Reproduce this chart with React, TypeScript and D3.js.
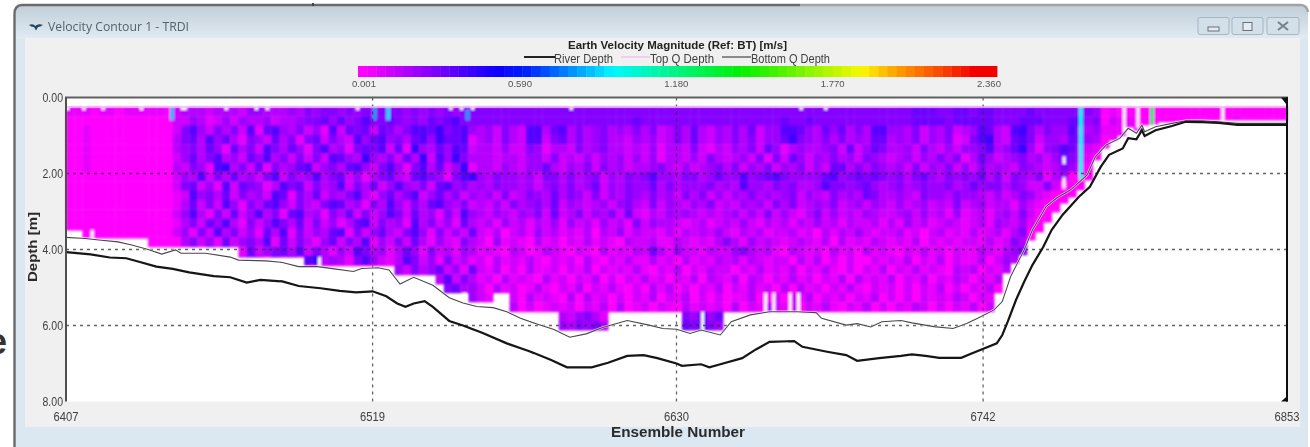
import React from "react";
import * as d3 from "d3";

const chartTitle = "Earth Velocity Magnitude (Ref: BT) [m/s]";
const windowTitle = "Velocity Contour 1 - TRDI";
const xTicks = [6407, 6519, 6630, 6742, 6853];
const yTicks = [0, 2, 4, 6, 8];
const colorbarTicks = [0.001, 0.59, 1.18, 1.77, 2.36];

const riverEns = [6407,6416,6423,6429,6434,6440,6446,6452,6461,6467,6473,6478,6486,6492,6500,6507,6513,6519,6524,6528,6531,6534,6538,6541,6547,6552,6559,6568,6576,6584,6590,6599,6605,6612,6618,6623,6630,6632,6639,6642,6647,6654,6659,6664,6673,6676,6685,6692,6696,6704,6712,6716,6721,6726,6734,6738,6747,6749,6751,6754,6757,6760,6764,6767,6771,6777,6781,6785,6788,6793,6795,6798,6800,6801,6805,6811,6816,6822,6828,6835,6853];
const riverDepth = [4.07,4.13,4.21,4.23,4.33,4.45,4.51,4.6,4.7,4.73,4.87,4.8,4.84,4.96,5.02,5.09,5.13,5.1,5.23,5.42,5.51,5.42,5.36,5.51,5.88,6,6.19,6.47,6.67,6.9,7.1,7.1,6.98,6.8,6.78,6.86,7,7.06,7.02,7.1,7,6.86,6.63,6.43,6.41,6.56,6.69,6.78,6.93,6.86,6.8,6.76,6.8,6.85,6.85,6.73,6.47,6.25,5.9,5.33,4.85,4.41,3.93,3.49,3.09,2.61,2.35,1.82,1.51,1.34,1.07,1.1,0.86,1.01,0.86,0.75,0.64,0.65,0.67,0.72,0.72];
const bottomQEns = [6407,6414,6419,6426,6431,6437,6442,6447,6449,6458,6467,6470,6480,6486,6492,6499,6505,6512,6515,6521,6525,6529,6534,6541,6547,6552,6557,6563,6568,6573,6579,6585,6591,6597,6603,6612,6620,6625,6630,6635,6639,6646,6650,6657,6664,6674,6681,6683,6692,6696,6701,6705,6712,6716,6724,6731,6736,6740,6746,6749,6752,6757,6760,6765,6769,6774,6780,6783,6787,6792,6795,6798,6800,6801,6805,6811,6816,6822,6828,6835,6853];
const bottomQDepth = [3.68,3.71,3.75,3.8,3.88,4,4.12,4.01,4.1,4.1,4.2,4.28,4.3,4.34,4.45,4.45,4.51,4.58,4.5,4.48,4.54,4.91,4.73,4.94,5.27,5.41,5.5,5.53,5.64,5.81,5.96,6.1,6.31,6.22,6.05,5.87,5.99,6.08,6.1,6.21,6.12,6.25,5.9,5.72,5.64,5.64,5.66,5.81,5.99,5.95,6.04,5.9,5.87,5.93,6.03,6.08,5.95,5.81,5.59,5.37,4.72,4.01,3.49,2.87,2.64,2.43,2.04,1.56,1.25,1.07,0.81,0.94,0.73,0.9,0.77,0.68,0.61,0.61,0.64,0.68,0.68];

// Deepest valid bin, per group of three ensembles (m)
const cellBottom = [3.49,3.49,3.7,3.7,3.7,3.7,3.7,3.7,3.7,3.7,3.93,3.93,3.93,3.93,3.93,3.93,3.93,3.93,3.93,3.93,3.93,4.2,4.2,4.2,4.2,4.2,4.2,4.2,4.2,4.43,4.43,4.43,4.43,4.43,4.43,4.43,4.43,4.43,4.43,4.43,4.67,4.67,4.67,4.67,4.67,4.91,5.14,5.14,5.14,5.38,5.38,5.38,5.14,5.14,5.64,5.64,5.64,5.64,5.64,5.64,6.12,6.12,6.12,6.12,6.12,6.12,5.64,5.64,5.64,5.64,5.64,5.64,5.64,5.64,5.64,6.12,6.12,6.12,6.12,6.12,5.64,5.64,5.64,5.64,5.64,5.64,5.64,5.64,5.64,5.64,5.64,5.64,5.64,5.64,5.64,5.64,5.64,5.64,5.64,5.64,5.64,5.64,5.64,5.64,5.64,5.64,5.64,5.64,5.64,5.64,5.64,5.64,5.64,5.14,4.62,4.36,4.14,3.75,3.54,3.28,3.01,2.78,2.62,2.43,2.17,1.64,1.33,1.12,0.99,0.78,0.86,0.72,0.7,0.64,0.64,0.62,0.6,0.59,0.59,0.59,0.59,0.59,0.59,0.59,0.59,0.59,0.59,0.59,0.59];

// Velocity level per cell (0 = magenta, 9 = blue), one string per 0.245 m depth bin, three ensembles per character
const heatRows = [
"1110110111 1102333233 3244333435 4554545455 5454545455 5555555555 5555555555 5555555555 5555555555 5555555555 5556665566 5665555655 5555540100 0000000000 000000000",
"0000000000 0002243124 2433423345 5646457556 5454656755 5555555555 5555555556 5555555555 5555555655 6555555555 5556666566 6665556665 5567450211 0000000000 001000000",
"0010000000 0002574253 5271674352 4172656265 3577685674 3425327736 7353453435 3523536324 3536244776 4364635377 4435243523 4763278535 4474341110 1111000000 000000000",
"0010000000 0003563746 3154263515 6253274674 5367486671 3425327725 6353453324 3423536324 3535244685 4353534366 3435243512 5783267524 4365430110 1111000000 000000000",
"0010000000 0003453641 6352753641 5734156572 6184364762 3324225413 3253453323 2413325213 2435264134 3345262465 3342532424 4573468414 5763210000 0000000000 000000000",
"0010000000 0002463573 4264735252 5276438435 2638274853 3323324425 2324243424 2413324253 2342515264 2435342543 2342435351 3642345342 4653100000 0000000000 000000000",
"0010000000 0003254178 3526153467 2453674257 4157362481 3324324463 2435253423 3453242345 3524352435 2426635354 3425243524 2534325432 3542000000 0000000000 000000000",
"0000000000 0002437253 6342572534 7356241356 3267541578 4354434255 3534524354 5744355346 4474567544 4467456565 4535643545 4635254351 3400000000 0000000000 000000000",
"0000000000 0002562417 2654137562 5347253624 7435267453 4354434245 3534624354 4635344453 4374435453 3475545643 4534544534 6455354225 2000000000 0000000000 000000000",
"0000000000 0001274536 2534276153 6243573146 3572463524 3425235436 3542524354 3534253524 2435343452 4325343653 3432544354 4324235421 0000000000 0000000000 000000000",
"0000000000 0001362527 4153674253 2576341537 4253674352 3242534536 2432342453 2524324352 3243425352 3435234243 2423423252 3423314210 0000000000 0000000000 000000000",
"0000000000 0002473152 6247351673 4153625247 5263415274 3243243526 2352435262 1324343232 3424252421 3524232432 2342423141 2313425200 0000000000 0000000000 000000000",
"0000000000 0001352647 3152475362 5241367253 4173524163 2314231324 1423142315 2433212312 3242132313 2423132231 3142312321 2314324100 0000000000 0000000000 000000000",
"0000000000 0002415273 5241637152 4367152463 2574152426 2130231423 1213032413 2213132324 2132312231 2031324212 2312023121 3123135000 0000000000 0000000000 000000000",
"0000000000 0000352416 2453716253 1462537142 5263142153 2041210312 0213121032 2311321213 5314232123 2130312132 1213021212 2131253000 0000000000 0000000000 000000000",
"0000000000 0001241635 3162456372 5314275341 3641523143 1210320132 1021031213 2631422132 2453231032 1203120312 1021312021 1321345000 0000000000 0000000000 000000000",
"0000000000 0000000000 2354163527 8343157421 3752415231 2031213102 1203102131 1312031213 2313212203 1302020021 2130213021 1302435000 0000000000 0000000000 000000000",
"0000000000 0000000000 0000000000 0000000000 4253462416 2130203112 0213021213 1021302132 2021312130 2131020213 0213121032 3021300000 0000000000 0000000000 000000000",
"0000000000 0000000000 0000000000 0000000000 3142537253 1203121031 2021302021 3120213032 1303202131 2021303121 3021302132 0213000000 0000000000 0000000000 000000000",
"0000000000 0000000000 0000000000 0000000000 2351425634 2031201310 2130213102 0313020213 0213120303 1202131021 2020213020 2130000000 0000000000 0000000000 000000000",
"0000000000 0000000000 0000000000 0000000000 0000006524 2130203121 0303120202 1302130202 0113002021 3021202130 2020212132 0210000000 0000000000 0000000000 000000000",
"0000000000 0000000000 0000000000 0000000000 0000003322 2021302012 1202130301 2021031212 0302132120 2131021302 0213202021 3020000000 0000000000 0000000000 000000000",
"0000000000 0000000000 0000000000 0000000000 0000000000 0000000000 3245312200 0000054746 6530000000 0000000000 0000000000 0000000000 0000000000 0000000000 000000000",
"0000000000 0000000000 0000000000 0000000000 0000000000 0000000000 4354532300 0000065754 4540000000 0000000000 0000000000 0000000000 0000000000 0000000000 000000000",
];

// One-ensemble missing or anomalous bins: [ensemble, from depth, to depth]
const whiteGaps = [[6407,0.25,0.33],[6413,0.25,0.33],[6420,0.25,0.33],[6434,0.25,0.33],[6449,0.25,0.33],[6450,0.25,0.33],[6465,0.25,0.33],[6476,0.25,0.33],[6480,0.25,0.33],[6513,0.25,0.33],[6547,0.25,0.33],[6551,0.25,0.33],[6555,0.25,0.33],[6591,0.25,0.33],[6675,0.25,0.33],[6684,0.25,0.33],[6793,0.25,0.93],[6798,0.25,0.8],[6829,0.25,0.59],[6662,5.14,5.64],[6665,5.14,5.64],[6671,5.14,5.64],[6674,5.14,5.64],[6639,5.64,6.12],[6416,3.49,3.7],[6499,4.2,4.43],[6552,5.14,5.38],[6771,1.55,1.75],[6771,2.1,2.4]];
const colorSpikes = [[6445,0.25,0.6,0.85],[6519,0.25,0.6,0.8],[6524,0.25,0.6,0.9],[6553,0.33,0.6,0.8],[6777,0.25,2.17,0.95],[6803,0.25,0.72,1.25]];

const legendItems = [
  { label: "River Depth", x1: 524, x2: 555, tx: 554, tw: 59, color: "#222", w: 2 },
  { label: "Top Q Depth", x1: 621, x2: 650, tx: 650, tw: 64, color: "#f2b6ee", w: 1.2 },
  { label: "Bottom Q Depth", x1: 722, x2: 751, tx: 751, tw: 79, color: "#444", w: 1.2 },
];

const FONT = "'Liberation Sans', Arial, sans-serif";

export default function App() {
  const x = d3.scaleLinear().domain([6407, 6853]).range([66, 1287]);
  const y = d3.scaleLinear().domain([0, 8]).range([97.5, 401.5]);
  const color = d3.scaleLinear<string>()
    .domain([0.001, 0.487, 0.6, 0.94, 1.43, 1.88, 2.01, 2.31, 2.36])
    .range(["#ff00ff", "#1400ff", "#0018ff", "#00f8ff", "#00f000", "#f8f800", "#ffa000", "#f40000", "#f40000"]);
  const barScale = d3.scaleLinear().domain([0.001, 2.36]).range([364, 989]);

  const pathOf = (ens: number[], dep: number[]) =>
    d3.line<number>().x((e) => x(e)).y((_, i) => y(dep[i]))(ens) as string;

  const rowTop = 0.25;
  const rowH = 0.2446;
  const ensPerCol = 3;
  const levelStep = 0.05;
  const rows = heatRows.map((r) => r.replace(/ /g, ""));
  const cells: { k: string; x: number; y: number; w: number; h: number; c: string }[] = [];
  rows.forEach((row, r) => {
    row.split("").forEach((ch, c) => {
      const top = rowTop + r * rowH;
      const bottom = Math.min(top + rowH, cellBottom[c] ?? 0);
      if (bottom <= top) return;
      const e0 = 6407 + c * ensPerCol;
      cells.push({
        k: `${r}-${c}`,
        x: x(e0),
        y: y(top),
        w: x(Math.min(e0 + ensPerCol, 6853)) - x(e0) + 0.4,
        h: y(bottom) - y(top) + 0.4,
        c: color(0.001 + +ch * levelStep),
      });
    });
  });
  const barSteps = d3.range(0, 70);
  const barX0 = 358;
  const barW = (997 - 358) / barSteps.length;

  const tickText = { fontFamily: FONT, fill: "#404040", fontSize: 13 };

  return (
    <svg width={1310} height={447} style={{ position: "absolute", left: 0, top: 0, display: "block" }} viewBox="0 0 1310 447">
      <defs>
        <linearGradient id="titleGrad" x1="0" x2="0" y1="0" y2="1">
          <stop offset="0" stopColor="#c3cfd8" />
          <stop offset="1" stopColor="#e0ebf4" />
        </linearGradient>
        <filter id="soft" x="-2%" y="-2%" width="104%" height="104%">
          <feGaussianBlur stdDeviation="1" />
        </filter>
        <filter id="softer" x="-2%" y="-2%" width="104%" height="104%">
          <feGaussianBlur stdDeviation="0.4" />
        </filter>
      </defs>
      <rect width={1310} height={447} fill="#fff" />
      <text x={-13} y={354} fontFamily={FONT} fontWeight="bold" fontSize={36} fill="#333">e</text>

      {/* window frame */}
      <g filter="url(#softer)">
        <path d="M14 447V14Q14 6 22 6H1300Q1308 6 1308 14V447Z" fill="#dbe7f1" />
        <path d="M14 39V14Q14 6 22 6H1300Q1308 6 1308 14V39Z" fill="url(#titleGrad)" />
        <path d="M14.5 447V14Q14.5 5 22 5H800" fill="none" stroke="#6b6b6b" strokeWidth={2.4} />
        <path d="M800 5H1300Q1307 5 1308 12" fill="none" stroke="#a3a3a3" strokeWidth={2.4} />
        <rect x={312} y={3} width={2} height={3} fill="#444" />
        <rect x={25} y={38} width={1275} height={389} fill="#f0f0f0" />
        {[1198, 1232, 1267].map((bx) => (
          <rect key={bx} x={bx} y={17.5} width={bx === 1267 ? 32 : 31} height={17} rx={2} fill="#d3dfe9" stroke="#a5b5c2" />
        ))}
        <rect x={1208} y={27} width={11} height={4} fill="#e4ecf2" stroke="#66707a" />
        <rect x={1243} y={22.5} width={9} height={8} fill="#e4ecf2" stroke="#66707a" />
        <path d="M1278 22L1288 30M1288 22L1278 30" stroke="#77818a" strokeWidth={2} />
        <path d="M29 25Q33 23 35.5 26Q38 23 43 25Q40 27 38 27L36 30.5L34 27Q31 27 29 25Z" fill="#20445e" />
        <text x={48} y={31} fontFamily="'Open Sans', sans-serif" fontSize={12.5} fill="#54626c" textLength={141} lengthAdjust="spacingAndGlyphs">{windowTitle}</text>
      </g>

      {/* plot area */}
      <rect x={x(6407)} y={y(0)} width={x(6853) - x(6407)} height={y(8) - y(0)} fill="#fff" />
      <g filter="url(#soft)">
        {cells.map((c) => (
          <rect key={c.k} x={c.x} y={c.y} width={c.w} height={c.h} fill={c.c} />
        ))}
        {whiteGaps.map(([e, a, b], i) => (
          <rect key={i} x={x(e)} y={y(a)} width={x(e + 1.1) - x(e)} height={y(b) - y(a)} fill="#fff" />
        ))}
        {colorSpikes.map(([e, a, b, v], i) => (
          <rect key={i} x={x(e)} y={y(a)} width={x(e + 1.4) - x(e)} height={y(b) - y(a)} fill={color(v)} />
        ))}
      </g>

      <g filter="url(#softer)">
        {/* grid */}
        {yTicks.slice(1, 4).map((t) => (
          <line key={t} x1={x(6407)} x2={x(6853)} y1={y(t)} y2={y(t)} stroke="#333" strokeOpacity={0.75} strokeWidth={1.3} strokeDasharray="3 4" />
        ))}
        {xTicks.slice(1, 4).map((t) => (
          <line key={t} x1={x(t)} x2={x(t)} y1={y(0)} y2={y(8)} stroke="#333" strokeOpacity={0.75} strokeWidth={1.3} strokeDasharray="3 4" />
        ))}
        {/* depth lines */}
        <line x1={x(6407)} x2={x(6853)} y1={y(0.25)} y2={y(0.25)} stroke="#f6b4f0" strokeWidth={1.4} />
        <path d={pathOf(bottomQEns, bottomQDepth)} fill="none" stroke="#fff" strokeWidth={2.4} opacity={0.7} />
        <path d={pathOf(bottomQEns, bottomQDepth)} fill="none" stroke="#484848" strokeWidth={1.1} />
        <path d={pathOf(riverEns, riverDepth)} fill="none" stroke="#141414" strokeWidth={2.2} />
        {/* frame */}
        <line x1={x(6407) - 1} x2={x(6853) + 1} y1={y(0)} y2={y(0)} stroke="#606060" strokeWidth={1.8} />
        <line x1={x(6407)} x2={x(6407)} y1={y(0)} y2={y(8)} stroke="#505050" strokeWidth={2} />
        <line x1={x(6853)} x2={x(6853)} y1={y(0)} y2={y(8)} stroke="#111" strokeWidth={2} />
        <path d={`M${x(6853) - 6} ${y(0)}H${x(6853) + 1}V${y(0) + 9}Z`} fill="#111" />
        <path d={`M${x(6853) + 1} ${y(8) - 6}V${y(8)}H${x(6853) - 6}Z`} fill="#111" />

        {/* axes */}
        {yTicks.map((t) => (
          <text key={t} x={63} y={y(t) + 4.5} textAnchor="end" {...tickText} textLength={20.5} lengthAdjust="spacingAndGlyphs">{t.toFixed(2)}</text>
        ))}
        {xTicks.map((t) => (
          <text key={t} x={x(t)} y={421} textAnchor="middle" {...tickText} textLength={25} lengthAdjust="spacingAndGlyphs">{t}</text>
        ))}
        <text x={678} y={437} textAnchor="middle" fontFamily={FONT} fontWeight="bold" fontSize={14.5} fill="#2a2a2a" textLength={134} lengthAdjust="spacingAndGlyphs">Ensemble Number</text>
        <text transform="translate(37,247) rotate(-90)" textAnchor="middle" fontFamily={FONT} fontWeight="bold" fontSize={13.5} fill="#2a2a2a" textLength={70} lengthAdjust="spacingAndGlyphs">Depth [m]</text>

        {/* title, legend */}
        <text x={677.5} y={48.5} textAnchor="middle" fontFamily={FONT} fontWeight="bold" fontSize={10.5} fill="#222" textLength={219} lengthAdjust="spacingAndGlyphs">{chartTitle}</text>
        {legendItems.map((l) => (
          <g key={l.label}>
            <line x1={l.x1} x2={l.x2} y1={57} y2={57} stroke={l.color} strokeWidth={l.w} />
            <text x={l.tx} y={63} fontFamily={FONT} fontSize={13} fill="#404040" textLength={l.tw} lengthAdjust="spacingAndGlyphs">{l.label}</text>
          </g>
        ))}
        {/* colour bar */}
        {barSteps.map((s) => {
          const px = barX0 + s * barW;
          const v = Math.max(0.001, barScale.invert(px + barW / 2));
          return <rect key={s} x={px} y={66} width={barW + 0.4} height={11} fill={color(v)} />;
        })}
        {colorbarTicks.map((t) => (
          <text key={t} x={barScale(t)} y={87} textAnchor="middle" fontFamily={FONT} fontSize={9} fill="#555" textLength={24} lengthAdjust="spacingAndGlyphs">{t.toFixed(3)}</text>
        ))}
      </g>
    </svg>
  );
}
